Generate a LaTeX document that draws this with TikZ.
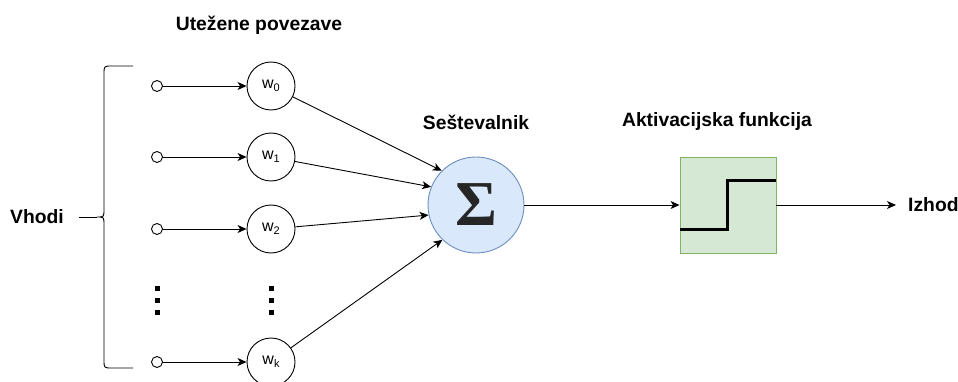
\documentclass[tikz,border=0pt]{standalone}
\usepackage{fontspec}
\setmainfont{Liberation Sans}
\newfontfamily\sigmafont{Liberation Serif}
\usetikzlibrary{arrows.meta}
\definecolor{sigfill}{HTML}{DAE8FC}
\definecolor{sigdraw}{HTML}{6C8EBF}
\definecolor{actfill}{HTML}{D5E8D4}
\definecolor{actdraw}{HTML}{82B366}
\newcommand{\wsub}[1]{\raisebox{-3pt}{\fontsize{11}{11}\selectfont #1}}
\begin{document}
\begin{tikzpicture}[x=1pt,y=-1pt,
 lbl/.style={font=\fontsize{19.3}{21}\selectfont\bfseries, inner sep=0},
 inp/.style={circle, draw, minimum size=11pt, inner sep=0, line width=0.9pt},
 wnode/.style={circle, draw, minimum size=48pt, inner sep=0, line width=0.9pt, font=\fontsize{16}{16}\selectfont},
 conn/.style={line width=0.9pt, -{Stealth[length=9pt,width=8pt,inset=2.5pt]}},
 plain/.style={line width=0.9pt},
 dotsq/.style={fill, minimum size=5pt, inner sep=0},
]
\useasboundingbox (0,0) rectangle (958,382);

% labels
\node[lbl] (lw) at (259,25) {Utežene povezave};
\node[lbl] (ls) at (476,122) {Seštevalnik};
\node[lbl] (la) at (717,122) {Aktivacijska funkcija};
\node[lbl] (vh) at (37,217) {Vhodi};
\node[lbl, anchor=west] (out) at (908,205) {Izhod};

% inputs
\node[inp] (i0) at (157,86) {};
\node[inp] (i1) at (157,157) {};
\node[inp] (i2) at (157,229) {};
\node[inp] (ik) at (157,362) {};

% weights
\node[wnode] (w0) at (271,86) {w\wsub{0}};
\node[wnode] (w1) at (271,157) {w\wsub{1}};
\node[wnode] (w2) at (271,229) {w\wsub{2}};
\node[wnode] (wk) at (271,362) {w\wsub{k}};

% dots
\node[dotsq] (da1) at (157,288) {};
\node[dotsq] (da2) at (157,300) {};
\node[dotsq] (da3) at (157,312) {};
\node[dotsq] (db1) at (271,288) {};
\node[dotsq] (db2) at (271,300) {};
\node[dotsq] (db3) at (271,312) {};

% summation
\node[circle, draw=sigdraw, fill=sigfill, minimum size=96pt, inner sep=0, line width=0.9pt,
      text=black!85, font=\sigmafont\bfseries\fontsize{64}{64}\selectfont] (sig) at (476,205) {Σ};

% activation
\node[draw=actdraw, fill=actfill, minimum size=96pt, inner sep=0, line width=0.9pt] (act) at (728,205) {};
\draw[line width=3pt] ([yshift=-24pt]act.west) -- ++(48,0) -- ++(0,-48) -- ([yshift=24pt]act.east);

% brace
\coordinate (tip) at (97,217);
\draw[plain] (133,66) -- (112,66) .. controls (104,66) .. (104,74) -- (104,209)
  .. controls (104,217) .. (tip) .. controls (104,217) .. (104,225) -- (104,360)
  .. controls (104,368) .. (112,368) -- (133,368);
\draw[plain, shorten <=15pt] (vh.east) -- (tip);

% connectors
\draw[conn] (i0) -- (w0);
\draw[conn] (i1) -- (w1);
\draw[conn] (i2) -- (w2);
\draw[conn] (ik) -- (wk);
\draw[conn] (w0) -- (sig.135);
\draw[conn] (w1) -- (sig.158);
\draw[conn] (w2) -- (sig.192);
\draw[conn] (wk) -- (sig.226);
\draw[conn] (sig) -- (act);
\draw[conn, shorten >=12pt] (act) -- (out.west);
\end{tikzpicture}
\end{document}
